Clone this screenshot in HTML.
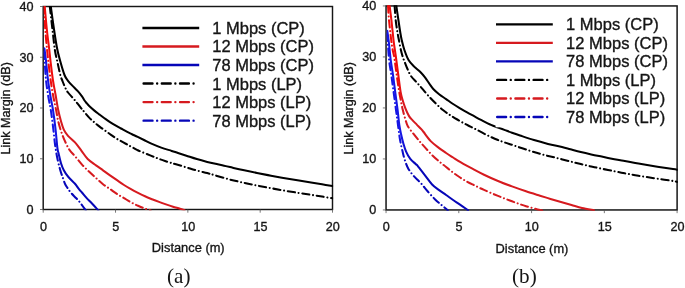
<!DOCTYPE html>
<html><head><meta charset="utf-8"><title>Link margin vs distance</title>
<style>
html,body{margin:0;padding:0;background:#fff;}
body{width:685px;height:288px;overflow:hidden;}
svg{display:block;will-change:transform;}
text{font-family:"Liberation Sans",Arial,sans-serif;fill:#151515;stroke:#151515;stroke-width:0.34px;}
.tk{font-size:12.6px;}
.ax{font-size:12.85px;}
.lg{font-size:16px;}
.cap{font-family:"Liberation Serif","Times New Roman",serif;font-size:20px;stroke:none;}
</style></head><body>
<svg width="685" height="288" viewBox="0 0 685 288">
<defs>
<linearGradient id="gr" gradientUnits="userSpaceOnUse" x1="0" y1="0" x2="0" y2="288"><stop offset="0" stop-color="#f00c0c"/><stop offset="0.27" stop-color="#f00c0c"/><stop offset="0.37" stop-color="#d61a1f"/><stop offset="1" stop-color="#d61a1f"/></linearGradient>
<linearGradient id="gb" gradientUnits="userSpaceOnUse" x1="0" y1="0" x2="0" y2="288"><stop offset="0" stop-color="#1616e4"/><stop offset="0.47" stop-color="#1616e4"/><stop offset="0.57" stop-color="#0606b8"/><stop offset="1" stop-color="#0606b8"/></linearGradient>
</defs>
<rect width="685" height="288" fill="#fff"/>
<clipPath id="clipa"><rect x="43.65" y="5.90" width="289.50" height="204.40"/></clipPath>
<rect x="43.20" y="6.50" width="289.30" height="203.00" fill="none" stroke="#161616" stroke-width="1.45"/>
<g clip-path="url(#clipa)" fill="none" stroke-width="2.05" stroke-linecap="round" stroke-linejoin="round">
<path d="M43.90 52.00 C44.02 53.33 44.25 55.33 44.60 60.00 C44.95 64.67 45.37 73.83 46.00 80.00 C46.63 86.17 47.60 92.00 48.40 97.00 C49.20 102.00 50.00 104.83 50.80 110.00 C51.60 115.17 52.48 122.17 53.20 128.00 C53.92 133.83 54.38 139.83 55.10 145.00 C55.82 150.17 56.63 154.80 57.50 159.00 C58.37 163.20 59.37 166.93 60.30 170.20 C61.23 173.47 62.28 176.27 63.10 178.60 C63.92 180.93 64.42 182.57 65.20 184.20 C65.98 185.83 66.82 186.93 67.80 188.40 C68.78 189.87 69.68 191.35 71.10 193.00 C72.52 194.65 74.68 196.55 76.30 198.30 C77.92 200.05 79.22 201.48 80.80 203.50 C82.38 205.52 84.97 209.25 85.80 210.40" stroke="url(#gb)" stroke-dasharray="7.2 3.7 0.01 3.7"/>
<path d="M44.40 48.40 C44.65 50.33 45.30 54.73 45.90 60.00 C46.50 65.27 47.22 73.83 48.00 80.00 C48.78 86.17 49.77 92.00 50.60 97.00 C51.43 102.00 52.20 104.83 53.00 110.00 C53.80 115.17 54.67 121.67 55.40 128.00 C56.13 134.33 56.87 143.77 57.40 148.00 C57.93 152.23 58.00 150.87 58.60 153.40 C59.20 155.93 60.13 160.40 61.00 163.20 C61.87 166.00 62.63 167.98 63.80 170.20 C64.97 172.42 66.13 174.23 68.00 176.50 C69.87 178.77 73.23 181.78 75.00 183.80 C76.77 185.82 77.38 187.07 78.60 188.60 C79.82 190.13 80.98 191.45 82.30 193.00 C83.62 194.55 84.88 196.15 86.50 197.90 C88.12 199.65 90.02 201.42 92.00 203.50 C93.98 205.58 97.33 209.25 98.40 210.40" stroke="url(#gb)"/>
<path d="M44.00 6.40 C44.22 10.33 44.78 22.73 45.30 30.00 C45.82 37.27 46.58 44.67 47.10 50.00 C47.62 55.33 47.82 57.00 48.40 62.00 C48.98 67.00 49.77 74.17 50.60 80.00 C51.43 85.83 52.48 92.00 53.40 97.00 C54.32 102.00 55.30 105.97 56.10 110.00 C56.90 114.03 57.38 117.70 58.20 121.20 C59.02 124.70 59.95 127.85 61.00 131.00 C62.05 134.15 63.10 136.97 64.50 140.10 C65.90 143.23 67.65 147.12 69.40 149.80 C71.15 152.48 72.90 153.73 75.00 156.20 C77.10 158.67 79.67 162.03 82.00 164.60 C84.33 167.17 86.67 169.37 89.00 171.60 C91.33 173.83 93.67 175.90 96.00 178.00 C98.33 180.10 100.67 182.37 103.00 184.20 C105.33 186.03 107.67 187.38 110.00 189.00 C112.33 190.62 114.67 192.38 117.00 193.90 C119.33 195.42 121.67 196.70 124.00 198.10 C126.33 199.50 128.67 201.02 131.00 202.30 C133.33 203.58 135.67 204.75 138.00 205.80 C140.33 206.85 142.90 207.83 145.00 208.60 C147.10 209.37 149.67 210.10 150.60 210.40" stroke="url(#gr)" stroke-dasharray="7.2 3.7 0.01 3.7"/>
<path d="M44.70 6.40 C45.07 10.33 46.13 22.73 46.90 30.00 C47.67 37.27 48.68 44.67 49.30 50.00 C49.92 55.33 50.00 57.00 50.60 62.00 C51.20 67.00 52.07 74.50 52.90 80.00 C53.73 85.50 54.72 90.00 55.60 95.00 C56.48 100.00 57.30 105.63 58.20 110.00 C59.10 114.37 60.07 117.93 61.00 121.20 C61.93 124.47 62.63 127.15 63.80 129.60 C64.97 132.05 66.13 133.77 68.00 135.90 C69.87 138.03 72.75 139.92 75.00 142.40 C77.25 144.88 79.38 148.03 81.50 150.80 C83.62 153.57 85.28 156.57 87.70 159.00 C90.12 161.43 93.45 163.52 96.00 165.40 C98.55 167.28 100.67 168.65 103.00 170.30 C105.33 171.95 107.67 173.65 110.00 175.30 C112.33 176.95 114.67 178.58 117.00 180.20 C119.33 181.82 121.67 183.50 124.00 185.00 C126.33 186.50 128.67 187.88 131.00 189.20 C133.33 190.52 135.67 191.72 138.00 192.90 C140.33 194.08 142.67 195.25 145.00 196.30 C147.33 197.35 149.67 198.27 152.00 199.20 C154.33 200.13 156.67 201.03 159.00 201.90 C161.33 202.77 163.67 203.60 166.00 204.40 C168.33 205.20 170.67 205.98 173.00 206.70 C175.33 207.42 178.08 208.10 180.00 208.70 C181.92 209.30 183.75 210.03 184.50 210.30" stroke="url(#gr)"/>
<path d="M49.80 6.40 C50.25 10.33 51.65 22.73 52.50 30.00 C53.35 37.27 54.12 44.83 54.90 50.00 C55.68 55.17 56.30 56.83 57.20 61.00 C58.10 65.17 59.43 71.70 60.30 75.00 C61.17 78.30 61.58 78.70 62.40 80.80 C63.22 82.90 64.27 85.65 65.20 87.60 C66.13 89.55 66.60 90.63 68.00 92.50 C69.40 94.37 71.97 96.90 73.60 98.80 C75.23 100.70 76.40 102.17 77.80 103.90 C79.20 105.63 80.97 107.92 82.00 109.20 C83.03 110.48 82.80 110.20 84.00 111.60 C85.20 113.00 87.47 115.80 89.20 117.60 C90.93 119.40 92.67 120.90 94.40 122.40 C96.13 123.90 97.60 125.08 99.60 126.60 C101.60 128.12 104.50 130.13 106.40 131.50 C108.30 132.87 109.27 133.60 111.00 134.80 C112.73 136.00 114.97 137.55 116.80 138.70 C118.63 139.85 120.26 140.73 122.00 141.70 C123.74 142.67 125.83 143.73 127.25 144.50 C128.67 145.27 128.88 145.42 130.50 146.30 C132.12 147.18 135.35 148.95 137.00 149.80 C138.65 150.65 138.10 150.43 140.40 151.40 C142.70 152.37 147.87 154.42 150.80 155.60 C153.73 156.78 155.63 157.60 158.00 158.50 C160.37 159.40 162.67 160.22 165.00 161.00 C167.33 161.78 170.17 162.65 172.00 163.20 C173.83 163.75 173.60 163.60 176.00 164.30 C178.40 165.00 182.93 166.37 186.40 167.40 C189.87 168.43 193.33 169.55 196.80 170.50 C200.28 171.45 204.22 172.30 207.25 173.10 C210.28 173.90 211.38 174.27 215.00 175.30 C218.62 176.33 224.33 178.08 229.00 179.30 C233.67 180.52 238.33 181.57 243.00 182.60 C247.67 183.63 252.33 184.57 257.00 185.50 C261.67 186.43 266.33 187.33 271.00 188.20 C275.67 189.07 280.33 189.90 285.00 190.70 C289.67 191.50 294.67 192.32 299.00 193.00 C303.33 193.68 307.17 194.20 311.00 194.80 C314.83 195.40 318.42 196.02 322.00 196.60 C325.58 197.18 330.75 198.02 332.50 198.30" stroke="#000" stroke-dasharray="7.2 3.7 0.01 3.7"/>
<path d="M50.80 6.40 C51.30 10.00 52.77 21.07 53.80 28.00 C54.83 34.93 55.93 42.50 57.00 48.00 C58.07 53.50 58.95 56.50 60.20 61.00 C61.45 65.50 63.20 71.70 64.50 75.00 C65.80 78.30 66.48 78.82 68.00 80.80 C69.52 82.78 71.97 85.18 73.60 86.90 C75.23 88.62 76.40 89.53 77.80 91.10 C79.20 92.67 80.97 94.87 82.00 96.30 C83.03 97.73 83.25 98.58 84.00 99.70 C84.75 100.82 85.63 101.95 86.50 103.00 C87.37 104.05 87.88 104.73 89.20 106.00 C90.52 107.27 92.67 109.17 94.40 110.60 C96.13 112.03 97.87 113.28 99.60 114.60 C101.33 115.92 103.07 117.25 104.80 118.50 C106.53 119.75 108.00 120.82 110.00 122.10 C112.00 123.38 114.97 125.13 116.80 126.20 C118.63 127.27 119.26 127.55 121.00 128.50 C122.74 129.45 125.42 130.95 127.25 131.90 C129.08 132.85 130.26 133.37 132.00 134.20 C133.74 135.03 135.70 135.93 137.70 136.90 C139.70 137.87 141.82 138.92 144.00 140.00 C146.18 141.08 147.93 142.13 150.80 143.40 C153.68 144.67 157.77 146.35 161.25 147.60 C164.73 148.85 168.91 150.00 171.70 150.90 C174.49 151.80 175.55 152.20 178.00 153.00 C180.45 153.80 183.27 154.68 186.40 155.70 C189.53 156.72 193.33 158.07 196.80 159.10 C200.28 160.13 203.77 161.03 207.25 161.90 C210.73 162.77 214.91 163.67 217.70 164.30 C220.49 164.93 221.95 165.23 224.00 165.70 C226.05 166.17 226.83 166.37 230.00 167.10 C233.17 167.83 238.50 169.12 243.00 170.10 C247.50 171.08 252.33 172.07 257.00 173.00 C261.67 173.93 266.33 174.83 271.00 175.70 C275.67 176.57 280.33 177.40 285.00 178.20 C289.67 179.00 294.67 179.78 299.00 180.50 C303.33 181.22 307.17 181.87 311.00 182.50 C314.83 183.13 318.42 183.72 322.00 184.30 C325.58 184.88 330.75 185.72 332.50 186.00" stroke="#000"/>
</g>
<path d="M43.20 209.50 v3.2 M115.53 209.50 v3.2 M187.85 209.50 v3.2 M260.18 209.50 v3.2 M332.50 209.50 v3.2 M43.20 209.50 h-3.2 M43.20 158.75 h-3.2 M43.20 108.00 h-3.2 M43.20 57.25 h-3.2 M43.20 6.50 h-3.2" stroke="#555" stroke-width="0.8" fill="none"/>
<g class="tk">
<text x="43.50" y="230.90" text-anchor="middle">0</text>
<text x="115.83" y="230.90" text-anchor="middle">5</text>
<text x="188.15" y="230.90" text-anchor="middle">10</text>
<text x="260.48" y="230.90" text-anchor="middle">15</text>
<text x="332.80" y="230.90" text-anchor="middle">20</text>
<text x="33.60" y="213.90" text-anchor="end">0</text>
<text x="33.60" y="163.15" text-anchor="end">10</text>
<text x="33.60" y="112.40" text-anchor="end">20</text>
<text x="33.60" y="61.65" text-anchor="end">30</text>
<text x="33.60" y="10.90" text-anchor="end">40</text>
</g>
<text class="ax" x="188.25" y="252.30" text-anchor="middle">Distance (m)</text>
<text class="tk" transform="translate(10.40 108.30) rotate(-90)" text-anchor="middle">Link Margin (dB)</text>
<text class="cap" transform="translate(178.70 282.60) scale(1.06 1)" text-anchor="middle">(a)</text>
<path d="M142.40 27.95 H199.20" stroke="#000" stroke-width="2.35" stroke-linecap="butt" fill="none"/>
<text class="lg" transform="translate(212.20 33.95) scale(1.032 1)">1 Mbps (CP)</text>
<path d="M142.40 46.49 H199.20" stroke="#d61a1f" stroke-width="2.35" stroke-linecap="butt" fill="none"/>
<text class="lg" transform="translate(212.20 52.49) scale(1.032 1)">12 Mbps (CP)</text>
<path d="M142.40 65.03 H199.20" stroke="#0606b8" stroke-width="2.35" stroke-linecap="butt" fill="none"/>
<text class="lg" transform="translate(212.20 71.03) scale(1.032 1)">78 Mbps (CP)</text>
<path d="M143.60 83.57 H195.40" stroke="#000" stroke-width="2.4" stroke-linecap="round" stroke-dasharray="8.9 4.65 0.01 4.65" fill="none"/>
<text class="lg" transform="translate(212.20 89.57) scale(1.032 1)">1 Mbps (LP)</text>
<path d="M143.60 102.11 H195.40" stroke="#d61a1f" stroke-width="2.4" stroke-linecap="round" stroke-dasharray="8.9 4.65 0.01 4.65" fill="none"/>
<text class="lg" transform="translate(212.20 108.11) scale(1.032 1)">12 Mbps (LP)</text>
<path d="M143.60 120.65 H195.40" stroke="#0606b8" stroke-width="2.4" stroke-linecap="round" stroke-dasharray="8.9 4.65 0.01 4.65" fill="none"/>
<text class="lg" transform="translate(212.20 126.65) scale(1.032 1)">78 Mbps (LP)</text>
<clipPath id="clipb"><rect x="386.50" y="5.35" width="291.25" height="205.40"/></clipPath>
<rect x="386.05" y="5.95" width="291.05" height="204.00" fill="none" stroke="#161616" stroke-width="1.50"/>
<g clip-path="url(#clipb)" fill="none" stroke-width="2.05" stroke-linecap="round" stroke-linejoin="round">
<path d="M386.90 34.00 C387.02 35.00 387.23 35.67 387.60 40.00 C387.97 44.33 388.48 54.17 389.10 60.00 C389.72 65.83 390.55 69.67 391.30 75.00 C392.05 80.33 392.82 86.17 393.60 92.00 C394.38 97.83 395.27 104.50 396.00 110.00 C396.73 115.50 397.35 120.17 398.00 125.00 C398.65 129.83 399.13 134.57 399.90 139.00 C400.67 143.43 401.77 148.05 402.60 151.60 C403.43 155.15 403.97 157.50 404.90 160.30 C405.83 163.10 406.72 165.77 408.20 168.40 C409.68 171.03 411.70 173.65 413.80 176.10 C415.90 178.55 418.47 180.53 420.80 183.10 C423.13 185.67 425.45 188.82 427.80 191.50 C430.15 194.18 432.70 197.02 434.90 199.20 C437.10 201.38 438.85 202.77 441.00 204.60 C443.15 206.43 446.67 209.27 447.80 210.20" stroke="url(#gb)" stroke-dasharray="7.2 3.7 0.01 3.7"/>
<path d="M387.30 30.90 C387.52 32.42 388.03 35.15 388.60 40.00 C389.17 44.85 389.97 54.17 390.70 60.00 C391.43 65.83 392.25 69.67 393.00 75.00 C393.75 80.33 394.43 86.17 395.20 92.00 C395.97 97.83 396.92 104.50 397.60 110.00 C398.28 115.50 398.70 120.87 399.30 125.00 C399.90 129.13 400.53 131.77 401.20 134.80 C401.87 137.83 402.48 140.40 403.30 143.20 C404.12 146.00 404.93 148.98 406.10 151.60 C407.27 154.22 408.67 156.80 410.30 158.90 C411.93 161.00 414.62 162.97 415.90 164.20 C417.18 165.43 416.48 164.43 418.00 166.30 C419.52 168.17 422.65 172.37 425.00 175.40 C427.35 178.43 429.75 182.05 432.10 184.50 C434.45 186.95 436.77 188.35 439.10 190.10 C441.43 191.85 443.77 193.35 446.10 195.00 C448.43 196.65 450.78 198.40 453.10 200.00 C455.42 201.60 457.52 202.90 460.00 204.60 C462.48 206.30 466.67 209.27 468.00 210.20" stroke="url(#gb)"/>
<path d="M388.00 5.70 C388.17 8.08 388.47 14.28 389.00 20.00 C389.53 25.72 390.58 35.00 391.20 40.00 C391.82 45.00 392.20 47.17 392.70 50.00 C393.20 52.83 393.53 52.83 394.20 57.00 C394.87 61.17 395.92 69.50 396.70 75.00 C397.48 80.50 398.23 85.87 398.90 90.00 C399.57 94.13 400.07 96.53 400.70 99.80 C401.33 103.07 401.92 106.33 402.70 109.60 C403.48 112.87 404.57 116.67 405.40 119.40 C406.23 122.13 406.42 123.67 407.70 126.00 C408.98 128.33 411.15 130.88 413.10 133.40 C415.05 135.92 417.42 138.77 419.40 141.10 C421.38 143.43 422.88 145.07 425.00 147.40 C427.12 149.73 429.75 152.77 432.10 155.10 C434.45 157.43 436.77 159.42 439.10 161.40 C441.43 163.38 443.77 165.13 446.10 167.00 C448.43 168.87 450.77 170.85 453.10 172.60 C455.43 174.35 457.77 175.98 460.10 177.50 C462.43 179.02 464.77 180.42 467.10 181.70 C469.43 182.98 471.28 183.83 474.10 185.20 C476.92 186.57 480.02 188.12 484.00 189.90 C487.98 191.68 493.33 194.00 498.00 195.90 C502.67 197.80 507.33 199.58 512.00 201.30 C516.67 203.02 521.33 204.75 526.00 206.20 C530.67 207.65 537.00 209.27 540.00 210.00 C543.00 210.73 543.33 210.50 544.00 210.60" stroke="url(#gr)" stroke-dasharray="7.2 3.7 0.01 3.7"/>
<path d="M389.60 5.70 C389.90 8.08 390.75 14.28 391.40 20.00 C392.05 25.72 392.92 35.00 393.50 40.00 C394.08 45.00 394.50 47.17 394.90 50.00 C395.30 52.83 395.33 52.83 395.90 57.00 C396.47 61.17 397.52 69.17 398.30 75.00 C399.08 80.83 399.88 87.83 400.60 92.00 C401.32 96.17 401.80 97.27 402.60 100.00 C403.40 102.73 404.35 105.75 405.40 108.40 C406.45 111.05 407.73 113.95 408.90 115.90 C410.07 117.85 411.08 118.65 412.40 120.10 C413.72 121.55 415.28 123.05 416.80 124.60 C418.32 126.15 420.37 128.17 421.50 129.40 C422.63 130.63 422.07 130.05 423.60 132.00 C425.13 133.95 428.12 138.42 430.70 141.10 C433.28 143.78 436.53 146.12 439.10 148.10 C441.67 150.08 443.77 151.43 446.10 153.00 C448.43 154.57 450.77 156.02 453.10 157.50 C455.43 158.98 457.77 160.50 460.10 161.90 C462.43 163.30 464.77 164.62 467.10 165.90 C469.43 167.18 471.28 168.13 474.10 169.60 C476.92 171.07 480.02 172.80 484.00 174.70 C487.98 176.60 493.33 179.05 498.00 181.00 C502.67 182.95 507.33 184.68 512.00 186.40 C516.67 188.12 521.33 189.75 526.00 191.30 C530.67 192.85 535.92 194.43 540.00 195.70 C544.08 196.97 547.00 197.85 550.50 198.90 C554.00 199.95 557.50 200.98 561.00 202.00 C564.50 203.02 568.00 204.00 571.50 205.00 C575.00 206.00 578.25 207.13 582.00 208.00 C585.75 208.87 592.00 209.83 594.00 210.20" stroke="url(#gr)"/>
<path d="M394.60 5.70 C394.78 8.08 395.23 15.62 395.70 20.00 C396.17 24.38 396.87 28.67 397.40 32.00 C397.93 35.33 398.32 37.00 398.90 40.00 C399.48 43.00 400.25 47.17 400.90 50.00 C401.55 52.83 402.17 55.00 402.80 57.00 C403.43 59.00 403.92 60.00 404.70 62.00 C405.48 64.00 406.45 66.67 407.50 69.00 C408.55 71.33 409.48 73.78 411.00 76.00 C412.52 78.22 414.73 80.20 416.60 82.30 C418.47 84.40 420.33 86.45 422.20 88.60 C424.07 90.75 425.45 92.63 427.80 95.20 C430.15 97.77 433.72 101.48 436.30 104.00 C438.88 106.52 440.97 108.43 443.30 110.30 C445.63 112.17 447.97 113.67 450.30 115.20 C452.63 116.73 454.97 118.12 457.30 119.50 C459.63 120.88 462.10 122.32 464.30 123.50 C466.50 124.68 468.38 125.53 470.50 126.60 C472.62 127.67 474.75 128.73 477.00 129.90 C479.25 131.07 481.67 132.42 484.00 133.60 C486.33 134.78 488.67 135.93 491.00 137.00 C493.33 138.07 495.67 139.07 498.00 140.00 C500.33 140.93 502.33 141.68 505.00 142.60 C507.67 143.52 510.17 144.23 514.00 145.50 C517.83 146.77 523.33 148.72 528.00 150.20 C532.67 151.68 537.33 153.13 542.00 154.40 C546.67 155.67 551.27 156.62 556.00 157.80 C560.73 158.98 566.27 160.45 570.40 161.50 C574.53 162.55 577.33 163.27 580.80 164.10 C584.27 164.93 587.72 165.73 591.20 166.50 C594.68 167.27 597.83 167.90 601.70 168.70 C605.57 169.50 610.55 170.53 614.40 171.30 C618.25 172.07 621.33 172.65 624.80 173.30 C628.27 173.95 631.72 174.60 635.20 175.20 C638.68 175.80 641.73 176.28 645.70 176.90 C649.67 177.52 654.45 178.22 659.00 178.90 C663.55 179.58 669.93 180.50 673.00 181.00 C676.07 181.50 676.67 181.75 677.40 181.90" stroke="#000" stroke-dasharray="7.2 3.7 0.01 3.7"/>
<path d="M396.30 5.70 C396.65 8.08 397.75 15.62 398.40 20.00 C399.05 24.38 399.65 28.67 400.20 32.00 C400.75 35.33 401.00 37.00 401.70 40.00 C402.40 43.00 403.23 46.62 404.40 50.00 C405.57 53.38 407.02 57.48 408.70 60.30 C410.38 63.12 412.60 64.98 414.50 66.90 C416.40 68.82 418.35 70.05 420.10 71.80 C421.85 73.55 423.47 75.42 425.00 77.40 C426.53 79.38 427.88 81.72 429.30 83.70 C430.72 85.68 431.87 87.55 433.50 89.30 C435.13 91.05 437.00 92.57 439.10 94.20 C441.20 95.83 443.77 97.47 446.10 99.10 C448.43 100.73 450.77 102.47 453.10 104.00 C455.43 105.53 457.77 106.90 460.10 108.30 C462.43 109.70 464.77 111.08 467.10 112.40 C469.43 113.72 471.78 114.95 474.10 116.20 C476.42 117.45 478.18 118.45 481.00 119.90 C483.82 121.35 488.17 123.63 491.00 124.90 C493.83 126.17 495.67 126.63 498.00 127.50 C500.33 128.37 502.67 129.23 505.00 130.10 C507.33 130.97 509.50 131.80 512.00 132.70 C514.50 133.60 516.33 134.27 520.00 135.50 C523.67 136.73 529.33 138.70 534.00 140.10 C538.67 141.50 543.33 142.73 548.00 143.90 C552.67 145.07 558.27 146.20 562.00 147.10 C565.73 148.00 567.27 148.48 570.40 149.30 C573.53 150.12 577.33 151.15 580.80 152.00 C584.27 152.85 587.72 153.63 591.20 154.40 C594.68 155.17 597.83 155.80 601.70 156.60 C605.57 157.40 610.55 158.45 614.40 159.20 C618.25 159.95 621.33 160.47 624.80 161.10 C628.27 161.73 631.72 162.38 635.20 163.00 C638.68 163.62 641.73 164.13 645.70 164.80 C649.67 165.47 654.45 166.28 659.00 167.00 C663.55 167.72 669.93 168.63 673.00 169.10 C676.07 169.57 676.67 169.68 677.40 169.80" stroke="#000"/>
</g>
<rect x="495.6" y="14" width="176" height="113.3" fill="#fff"/>
<path d="M386.05 209.95 v3.2 M458.81 209.95 v3.2 M531.58 209.95 v3.2 M604.34 209.95 v3.2 M677.10 209.95 v3.2 M386.05 209.95 h-3.2 M386.05 158.95 h-3.2 M386.05 107.95 h-3.2 M386.05 56.95 h-3.2 M386.05 5.95 h-3.2" stroke="#555" stroke-width="0.8" fill="none"/>
<g class="tk">
<text x="386.35" y="231.35" text-anchor="middle">0</text>
<text x="459.11" y="231.35" text-anchor="middle">5</text>
<text x="531.88" y="231.35" text-anchor="middle">10</text>
<text x="604.64" y="231.35" text-anchor="middle">15</text>
<text x="677.40" y="231.35" text-anchor="middle">20</text>
<text x="376.15" y="214.35" text-anchor="end">0</text>
<text x="376.15" y="163.35" text-anchor="end">10</text>
<text x="376.15" y="112.35" text-anchor="end">20</text>
<text x="376.15" y="61.35" text-anchor="end">30</text>
<text x="376.15" y="10.35" text-anchor="end">40</text>
</g>
<text class="ax" x="531.98" y="252.75" text-anchor="middle">Distance (m)</text>
<text class="tk" transform="translate(353.40 108.30) rotate(-90)" text-anchor="middle">Link Margin (dB)</text>
<text class="cap" transform="translate(524.40 283.20) scale(1.06 1)" text-anchor="middle">(b)</text>
<path d="M496.00 24.30 H552.80" stroke="#000" stroke-width="2.35" stroke-linecap="butt" fill="none"/>
<text class="lg" transform="translate(566.10 30.30) scale(1.032 1)">1 Mbps (CP)</text>
<path d="M496.00 42.84 H552.80" stroke="#d61a1f" stroke-width="2.35" stroke-linecap="butt" fill="none"/>
<text class="lg" transform="translate(566.10 48.84) scale(1.032 1)">12 Mbps (CP)</text>
<path d="M496.00 61.38 H552.80" stroke="#0606b8" stroke-width="2.35" stroke-linecap="butt" fill="none"/>
<text class="lg" transform="translate(566.10 67.38) scale(1.032 1)">78 Mbps (CP)</text>
<path d="M497.20 79.92 H549.00" stroke="#000" stroke-width="2.4" stroke-linecap="round" stroke-dasharray="8.9 4.65 0.01 4.65" fill="none"/>
<text class="lg" transform="translate(566.10 85.92) scale(1.032 1)">1 Mbps (LP)</text>
<path d="M497.20 98.46 H549.00" stroke="#d61a1f" stroke-width="2.4" stroke-linecap="round" stroke-dasharray="8.9 4.65 0.01 4.65" fill="none"/>
<text class="lg" transform="translate(566.10 104.46) scale(1.032 1)">12 Mbps (LP)</text>
<path d="M497.20 117.00 H549.00" stroke="#0606b8" stroke-width="2.4" stroke-linecap="round" stroke-dasharray="8.9 4.65 0.01 4.65" fill="none"/>
<text class="lg" transform="translate(566.10 123.00) scale(1.032 1)">78 Mbps (LP)</text>
</svg>
</body></html>
